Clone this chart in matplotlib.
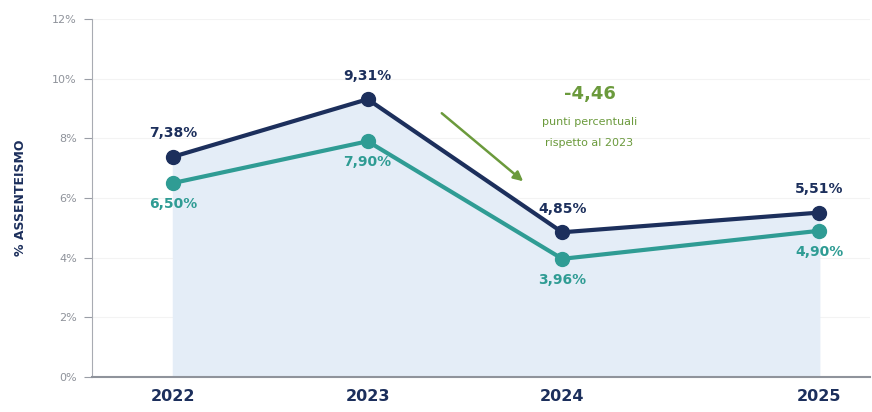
import matplotlib.pyplot as plt

years = ['2022', '2023', '2024', '2025']
xpos = [0, 1, 2, 3.32]
dark_vals = [7.38, 9.31, 4.85, 5.51]
light_vals = [6.50, 7.90, 3.96, 4.90]
dark_labels = ['7,38%', '9,31%', '4,85%', '5,51%']
light_labels = ['6,50%', '7,90%', '3,96%', '4,90%']
yticks = [0, 2, 4, 6, 8, 10, 12]

navy = '#1c2f5c'
teal = '#2f9c94'
green = '#6b9a3c'

plt.rcParams['font.family'] = ['DejaVu Sans']

fig = plt.figure(figsize=(8.72, 4.12), dpi=100)
ax = fig.add_axes([0.1055, 0.085, 0.892, 0.869])

ax.fill_between(xpos, dark_vals, 0, color='#e4edf7', zorder=1)
for t in yticks[1:]:
    ax.axhline(t, color='#f3f3f3', lw=0.8, zorder=0)

ax.plot(xpos, dark_vals, color=navy, lw=3, marker='o', ms=10, zorder=3)
ax.plot(xpos, light_vals, color=teal, lw=3, marker='o', ms=10, zorder=3)

for x, v, lab in zip(xpos, dark_vals, dark_labels):
    ax.annotate(lab, (x, v), xytext=(0, 12), textcoords='offset points',
                ha='center', va='bottom', fontsize=10, fontweight='bold', color=navy)
for x, v, lab in zip(xpos, light_vals, light_labels):
    ax.annotate(lab, (x, v), xytext=(0, -10), textcoords='offset points',
                ha='center', va='top', fontsize=10, fontweight='bold', color=teal)

# arrow and note for the drop after 2023
ax.annotate('', xy=(1.81, 6.5), xytext=(1.37, 8.9),
            arrowprops=dict(arrowstyle='-|>', color=green, lw=1.8, mutation_scale=14))
ax.text(2.14, 9.5, '-4,46', ha='center', va='center', fontsize=13, fontweight='bold', color=green)
ax.text(2.14, 8.55, 'punti percentuali', ha='center', va='center', fontsize=8, color=green)
ax.text(2.14, 7.85, 'rispetto al 2023', ha='center', va='center', fontsize=8, color=green)

ax.set_xlim(-0.416, 3.58)
ax.set_ylim(0, 12)
ax.set_xticks(xpos)
ax.set_xticklabels(years, fontsize=11.5, fontweight='bold', color=navy)
ax.set_yticks(yticks)
ax.set_yticklabels([f'{t}%' for t in yticks], fontsize=8, color='#8e929a')
ax.tick_params(axis='x', length=0, pad=9)
ax.tick_params(axis='y', length=6, color='#9a9ea6', pad=5)
ax.set_ylabel('% ASSENTEISMO', fontsize=9, fontweight='bold', color=navy, labelpad=18)

for side in ['top', 'right']:
    ax.spines[side].set_visible(False)
ax.spines['left'].set_color('#a8abb2')
ax.spines['bottom'].set_color('#8f939b')
ax.spines['bottom'].set_linewidth(1.5)

fig.savefig('out.png', dpi=100)
